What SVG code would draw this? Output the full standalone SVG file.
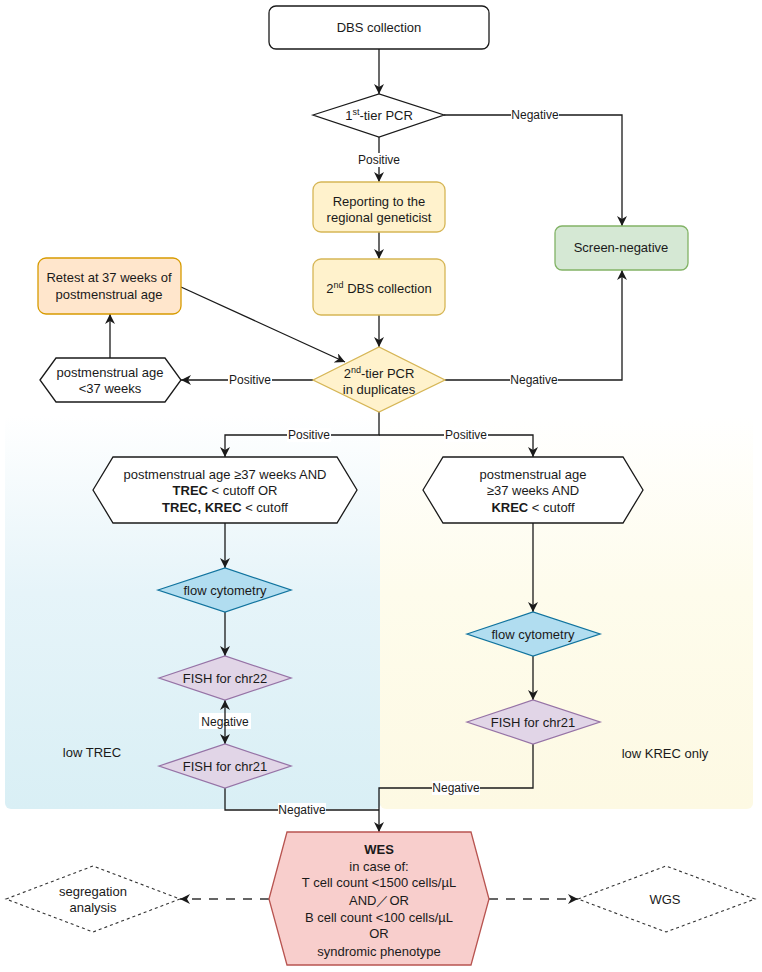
<svg xmlns="http://www.w3.org/2000/svg" width="762" height="972" viewBox="0 0 762 972">
<defs>
<marker id="arr" viewBox="0 0 10 10" refX="10" refY="5" markerWidth="10" markerHeight="10" markerUnits="userSpaceOnUse" orient="auto-start-reverse">
<path d="M0,0 L10,5 L0,10 L3,5 z" fill="#1a1a1a"/>
</marker>
<linearGradient id="gBlue" x1="0" y1="0" x2="0" y2="1">
<stop offset="0" stop-color="#ffffff"/>
<stop offset="0.45" stop-color="#e6f4f9"/>
<stop offset="1" stop-color="#d9eff5"/>
</linearGradient>
<linearGradient id="gYellow" x1="0" y1="0" x2="0" y2="1">
<stop offset="0" stop-color="#ffffff"/>
<stop offset="0.45" stop-color="#fefcec"/>
<stop offset="1" stop-color="#fdf9e3"/>
</linearGradient>
<style>
text{font-family:"Liberation Sans",Arial,sans-serif;fill:#1a1a1a;text-anchor:middle}
.n{font-size:13px}
.l{font-size:12px}
.b{font-weight:bold}
.sup{font-size:9px}
.edge{fill:none;stroke:#1a1a1a;stroke-width:1.3}
.arrow{marker-end:url(#arr)}
.dash{fill:none;stroke:#333;stroke-width:1.3;stroke-dasharray:9 8}
.lbg{fill:#ffffff}
.white{fill:#ffffff;stroke:#1a1a1a;stroke-width:1.3}
.yel{fill:#fff2cc;stroke:#d6b656;stroke-width:1.3}
.grn{fill:#d5e8d4;stroke:#82b366;stroke-width:1.3}
.org{fill:#ffe6cc;stroke:#d79b00;stroke-width:1.3}
.blu{fill:#b1ddf0;stroke:#10739e;stroke-width:1.3}
.pur{fill:#e1d5e7;stroke:#9673a6;stroke-width:1.3}
.red{fill:#f8cecc;stroke:#b85450;stroke-width:1.3}
.dot{fill:#ffffff;stroke:#333;stroke-width:1.1;stroke-dasharray:3 3}
</style>
</defs>

<g id="panels">
<rect x="5" y="415" width="376" height="394" rx="6" fill="url(#gBlue)"/>
<rect x="380" y="415" width="373" height="394" rx="6" fill="url(#gYellow)"/>
<text class="n" x="92" y="757">low TREC</text>
<text class="n" x="665" y="758">low KREC only</text>
</g>

<g id="connectors">
<path class="edge arrow" d="M379,49 L379,94"/>
<path class="edge arrow" d="M444,115 L622,115 L622,226"/>
<path class="edge arrow" d="M379,137 L379,182"/>
<path class="edge arrow" d="M379,232 L379,259"/>
<path class="edge arrow" d="M379,315 L379,347"/>
<path class="edge arrow" d="M445,380 L622,380 L622,270"/>
<path class="edge arrow" d="M313,380 L181,380"/>
<path class="edge arrow" d="M110,358 L110,314"/>
<path class="edge arrow" d="M181,287 L345,362"/>
<path class="edge arrow" d="M379,412 L379,435 L225,435 L225,457"/>
<path class="edge arrow" d="M379,435 L533,435 L533,457"/>
<path class="edge arrow" d="M225,523 L225,568"/>
<path class="edge arrow" d="M225,612 L225,656"/>
<path class="edge arrow" d="M533,523 L533,612"/>
<path class="edge arrow" d="M533,656 L533,700"/>
<path class="edge" d="M225,788 L225,810 L379,810"/>
<path class="edge arrow" d="M533,744 L533,788 L379,788 L379,832"/>
<path class="dash arrow" d="M269,899 L180,899"/>
<path class="dash arrow" d="M489,899 L578,899"/>

<rect class="lbg" x="199" y="713" width="52" height="16"/>
<path class="edge" d="M225,700 L225,744" marker-start="url(#arr)" marker-end="url(#arr)"/>

<rect class="lbg" x="511" y="108" width="48" height="14"/>
<text class="l" x="535" y="119">Negative</text>
<rect class="lbg" x="357" y="153" width="44" height="14"/>
<text class="l" x="379" y="164">Positive</text>
<rect class="lbg" x="510" y="373" width="48" height="14"/>
<text class="l" x="534" y="384">Negative</text>
<rect class="lbg" x="228" y="373" width="44" height="14"/>
<text class="l" x="250" y="384">Positive</text>
<rect class="lbg" x="287" y="428" width="44" height="14"/>
<text class="l" x="309" y="439">Positive</text>
<rect class="lbg" x="444" y="428" width="44" height="14"/>
<text class="l" x="466" y="439">Positive</text>
<text class="l" x="225" y="726">Negative</text>
<rect class="lbg" x="278" y="803" width="48" height="14"/>
<text class="l" x="302" y="814">Negative</text>
<rect class="lbg" x="432" y="781" width="48" height="14"/>
<text class="l" x="456" y="792">Negative</text>
</g>

<g id="dbs1">
<rect class="white" x="269" y="6" width="220" height="43" rx="7"/>
<text class="n" x="379" y="32">DBS collection</text>
</g>

<g id="pcr1">
<polygon class="white" points="313,115 379,94 444,115 379,137"/>
<text class="n" x="379" y="120">1<tspan class="sup" dy="-5">st</tspan><tspan dy="5">-tier PCR</tspan></text>
</g>

<g id="reporting">
<rect class="yel" x="313" y="182" width="132" height="50" rx="8"/>
<text class="n" x="379" y="206">Reporting to the</text>
<text class="n" x="379" y="222">regional geneticist</text>
</g>

<g id="dbs2">
<rect class="yel" x="313" y="259" width="132" height="56" rx="8"/>
<text class="n" x="379" y="293">2<tspan class="sup" dy="-5">nd</tspan><tspan dy="5"> DBS collection</tspan></text>
</g>

<g id="screenneg">
<rect class="grn" x="555" y="226" width="133" height="44" rx="7"/>
<text class="n" x="621" y="252">Screen-negative</text>
</g>

<g id="pcr2">
<polygon class="yel" points="313,380 379,347 445,380 379,412"/>
<text class="n" x="379" y="378">2<tspan class="sup" dy="-5">nd</tspan><tspan dy="5">-tier PCR</tspan></text>
<text class="n" x="379" y="394">in duplicates</text>
</g>

<g id="retest">
<rect class="org" x="38" y="258" width="143" height="56" rx="8"/>
<text class="n" x="109" y="282">Retest at 37 weeks of</text>
<text class="n" x="109" y="299">postmenstrual age</text>
</g>

<g id="pma37">
<polygon class="white" points="40,380 56,358 165,358 181,380 165,402 56,402"/>
<text class="n" x="110" y="377">postmenstrual age</text>
<text class="n" x="110" y="393">&lt;37 weeks</text>
</g>

<g id="hexTrec">
<polygon class="white" points="93,490 113,457 337,457 357,490 337,523 113,523"/>
<text class="n" x="225" y="479">postmenstrual age ≥37 weeks AND</text>
<text class="n" x="225" y="495"><tspan class="b">TREC</tspan> &lt; cutoff OR</text>
<text class="n" x="225" y="512"><tspan class="b">TREC, KREC</tspan> &lt; cutoff</text>
</g>

<g id="hexKrec">
<polygon class="white" points="423,490 443,457 623,457 643,490 623,523 443,523"/>
<text class="n" x="533" y="479">postmenstrual age</text>
<text class="n" x="533" y="495">≥37 weeks AND</text>
<text class="n" x="533" y="512"><tspan class="b">KREC</tspan> &lt; cutoff</text>
</g>

<g id="flowL">
<polygon class="blu" points="158,590 225,568 291,590 225,612"/>
<text class="n" x="225" y="595">flow cytometry</text>
</g>

<g id="fish22">
<polygon class="pur" points="159,678 225,656 291,678 225,700"/>
<text class="n" x="225" y="683">FISH for chr22</text>
</g>

<g id="fish21L">
<polygon class="pur" points="159,766 225,744 291,766 225,788"/>
<text class="n" x="225" y="771">FISH for chr21</text>
</g>

<g id="flowR">
<polygon class="blu" points="467,634 533,612 600,634 533,656"/>
<text class="n" x="533" y="639">flow cytometry</text>
</g>

<g id="fish21R">
<polygon class="pur" points="467,722 533,700 600,722 533,744"/>
<text class="n" x="533" y="727">FISH for chr21</text>
</g>

<g id="wes">
<polygon class="red" points="269,899 287,832 471,832 489,899 471,965 287,965"/>
<text class="n b" x="379" y="854">WES</text>
<text class="n" x="379" y="871">in case of:</text>
<text class="n" x="379" y="887">T cell count &lt;1500 cells/µL</text>
<text class="n" x="379" y="905">AND／OR</text>
<text class="n" x="379" y="922">B cell count &lt;100 cells/µL</text>
<text class="n" x="379" y="938">OR</text>
<text class="n" x="379" y="956">syndromic phenotype</text>
</g>

<g id="segregation">
<polygon class="dot" points="6,899 93,866 180,899 93,932"/>
<text class="n" x="93" y="896">segregation</text>
<text class="n" x="93" y="912">analysis</text>
</g>

<g id="wgs">
<polygon class="dot" points="578,899 666,866 755,899 666,932"/>
<text class="n" x="665" y="904">WGS</text>
</g>
</svg>
